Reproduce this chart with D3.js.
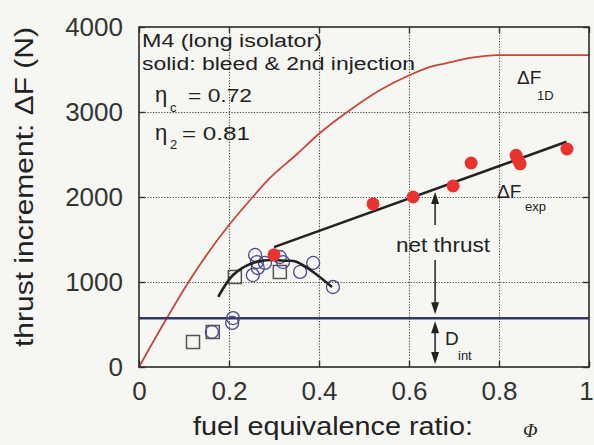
<!DOCTYPE html>
<html>
<head>
<meta charset="utf-8">
<script src="https://cdn.jsdelivr.net/npm/d3@7"></script>
<style>
  body { margin: 0; background: #f6f6f3; }
  svg { display: block; font-family: "Liberation Sans", Arial, sans-serif; }
</style>
</head>
<body>
<div id="graphicContainer"></div>
<script>
// ideal 1D thrust increment curve
var idealCurve = [[0,0],[0.062,576],[0.113,1024],[0.2,1670],[0.247,1965],[0.291,2224],[0.35,2500],
  [0.402,2753],[0.469,3024],[0.536,3259],[0.602,3435],[0.647,3530],[0.684,3576],[0.74,3640],[0.796,3670],[1,3670]]

// bleed & 2nd injection (solid)
var solidPhi = [0.30, 0.52, 0.609, 0.698, 0.738, 0.838, 0.842, 0.847, 0.951]
var solidF   = [1320, 1918, 2000, 2130, 2400, 2490, 2440, 2390, 2565]

// open circles
var circlePhi = [0.258, 0.262, 0.264, 0.253, 0.280, 0.313, 0.320, 0.358, 0.387, 0.431, 0.162, 0.207, 0.209]
var circleF   = [1318, 1235, 1165, 1082, 1224, 1294, 1235, 1118, 1224, 941, 412, 518, 576]

// open squares
var squarePhi = [0.213, 0.313, 0.164, 0.120]
var squareF   = [1059, 1118, 412, 294]

// fitted lines
var fitLine = [[0.30, 1410], [0.95, 2650]]
var arcLine = [[0.176,824],[0.209,1082],[0.253,1224],[0.291,1259],[0.33,1250],[0.351,1235],[0.387,1118],[0.429,941]]

var dInt = 575
var arrowPhi = 0.658

var xTicks = [0, 0.2, 0.4, 0.6, 0.8, 1]
var xLabels = ["0", "0.2", "0.4", "0.6", "0.8", "1"]
var yTicks = [0, 1000, 2000, 3000, 4000]

function makeChart() {

  var width = 594, height = 445
  var margin = {top: 27, right: 5, bottom: 78, left: 139}

  var svg = d3.select("#graphicContainer").append("svg")
      .attr("width", width).attr("height", height)

  svg.append("rect").attr("width", width).attr("height", height).attr("fill", "#f6f6f3")

  var x = d3.scaleLinear().domain([0, 1]).range([margin.left, width - margin.right])
  var y = d3.scaleLinear().domain([0, 4000]).range([height - margin.bottom, margin.top])

  // dotted grid
  var grid = svg.append("g").attr("stroke", "#444").attr("stroke-width", 1.1).attr("stroke-dasharray", "1.2,1.6")
  grid.selectAll(".vg").data(xTicks.slice(1, -1)).enter().append("line")
      .attr("x1", d => Math.round(x(d)) + 0.5).attr("x2", d => Math.round(x(d)) + 0.5)
      .attr("y1", y(0)).attr("y2", y(4000))
  grid.selectAll(".hg").data(yTicks.slice(1, -1)).enter().append("line")
      .attr("x1", x(0)).attr("x2", x(1))
      .attr("y1", d => Math.round(y(d)) + 0.5).attr("y2", d => Math.round(y(d)) + 0.5)

  // axes, ticks pointing inwards
  svg.append("g").attr("class", "axis").attr("transform", "translate(0," + y(0) + ")")
      .call(d3.axisBottom(x).tickValues(xTicks).tickFormat((d, i) => xLabels[i]).tickSizeInner(-6).tickSizeOuter(0).tickPadding(15))
  svg.append("g").attr("class", "axis").attr("transform", "translate(" + x(0) + ",0)")
      .call(d3.axisLeft(y).tickValues(yTicks).tickFormat(d3.format("d")).tickSizeInner(-6).tickSizeOuter(0).tickPadding(16))
  svg.append("g").attr("class", "axis").attr("transform", "translate(0," + y(4000) + ")")
      .call(d3.axisTop(x).tickValues(xTicks).tickFormat("").tickSizeInner(-6).tickSizeOuter(0))
  svg.append("g").attr("class", "axis").attr("transform", "translate(" + x(1) + ",0)")
      .call(d3.axisRight(y).tickValues(yTicks).tickFormat("").tickSizeInner(-6).tickSizeOuter(0))

  svg.selectAll(".axis .domain").remove()
  svg.selectAll(".axis .tick line").attr("stroke", "#333").attr("stroke-width", 1.4)
  svg.selectAll(".axis .tick text").attr("font-size", 26).attr("fill", "#333")
    .attr("font-family", "'Liberation Sans', Arial, sans-serif")
  // last x label sits at the very edge
  svg.selectAll(".axis .tick text").filter(d => d === 1).attr("dx", -3)

  var line = d3.line().x(d => x(d[0])).y(d => y(d[1]))

  // ideal curve
  svg.append("path").datum(idealCurve)
      .attr("d", d3.line().x(d => x(d[0])).y(d => y(d[1])).curve(d3.curveMonotoneX))
      .attr("fill", "none").attr("stroke", "#c8453b").attr("stroke-width", 1.8)

  // D_int line
  svg.append("line").attr("x1", x(0)).attr("x2", x(1)).attr("y1", y(dInt)).attr("y2", y(dInt))
      .attr("stroke", "#35356c").attr("stroke-width", 2.5)

  // squares
  svg.selectAll(".sq").data(squarePhi).enter().append("rect")
      .attr("x", d => x(d) - 6.5).attr("y", (d, i) => y(squareF[i]) - 6.5)
      .attr("width", 13).attr("height", 13)
      .attr("fill", "none").attr("stroke", "#555").attr("stroke-width", 1.5)

  // circles
  svg.selectAll(".oc").data(circlePhi).enter().append("circle")
      .attr("cx", d => x(d)).attr("cy", (d, i) => y(circleF[i])).attr("r", 6.5)
      .attr("fill", "none").attr("stroke", "#4a4a8e").attr("stroke-width", 1.3)

  // arc and fit line
  svg.append("path").datum(arcLine)
      .attr("d", d3.line().x(d => x(d[0])).y(d => y(d[1])).curve(d3.curveNatural))
      .attr("fill", "none").attr("stroke", "#222").attr("stroke-width", 2.6)
  svg.append("path").datum(fitLine).attr("d", line)
      .attr("fill", "none").attr("stroke", "#222").attr("stroke-width", 2.6)

  // solid dots
  svg.selectAll(".sd").data(solidPhi).enter().append("circle")
      .attr("cx", d => x(d)).attr("cy", (d, i) => y(solidF[i])).attr("r", 6.5)
      .attr("fill", "#e8332f")

  // arrows
  var fitAt = fitLine[0][1] + (fitLine[1][1] - fitLine[0][1]) * (arrowPhi - fitLine[0][0]) / (fitLine[1][0] - fitLine[0][0])
  var ax = x(arrowPhi)
  function arrowHead(tipY, dir) {
    svg.append("path")
      .attr("d", "M" + ax + "," + tipY + "L" + (ax - 4) + "," + (tipY + dir * 12) + "L" + (ax + 4) + "," + (tipY + dir * 12) + "Z")
      .attr("fill", "#222")
  }
  function shaft(y1, y2) {
    svg.append("line").attr("x1", ax).attr("x2", ax).attr("y1", y1).attr("y2", y2)
      .attr("stroke", "#222").attr("stroke-width", 1.5)
  }
  var tipTop = y(fitAt) + 3, tipNet = y(dInt) - 4
  shaft(tipTop + 8, 225); shaft(260, tipNet - 8)
  arrowHead(tipTop, 1); arrowHead(tipNet, -1)
  var tipD1 = y(dInt) + 3, tipD2 = y(0) - 3
  shaft(tipD1 + 8, tipD2 - 8)
  arrowHead(tipD1, 1); arrowHead(tipD2, -1)

  // texts
  function txt(t, px, py, size, len) {
    var e = svg.append("text").attr("x", px).attr("y", py).attr("font-size", size).attr("fill", "#222").text(t)
    if (len) e.attr("textLength", len).attr("lengthAdjust", "spacingAndGlyphs")
    return e
  }
  txt("M4 (long isolator)", 142, 47, 18, 180)
  txt("solid: bleed & 2nd injection", 142, 70, 18, 273)
  txt("η", 155, 102, 22)
  txt("c", 170, 112, 13)
  txt("= 0.72", 188, 102, 19, 64)
  txt("η", 155, 140, 22)
  txt("2", 170, 149, 13)
  txt("= 0.81", 182, 140, 19, 68)

  txt("ΔF", 517, 84, 19)
  txt("1D", 537, 100, 13)
  txt("ΔF", 497, 198, 19)
  txt("exp", 525, 211, 13)
  txt("net thrust", 396, 252, 20, 94)
  txt("D", 445, 345, 19)
  txt("int", 458, 360, 13)

  // frame
  svg.append("rect").attr("x", x(0)).attr("y", y(4000)).attr("width", x(1) - x(0)).attr("height", y(0) - y(4000))
      .attr("fill", "none").attr("stroke", "#2a2a2a").attr("stroke-width", 1.6)

  // axis titles
  txt("fuel equivalence ratio:", 193, 435, 25, 280)
  svg.append("text").attr("x", 523).attr("y", 437).attr("font-size", 19).attr("font-style", "italic")
      .attr("font-family", "'Liberation Serif', serif").attr("fill", "#222").text("Φ")
  svg.append("text").attr("transform", "translate(33,187) rotate(-90)").attr("text-anchor", "middle")
      .attr("font-size", 25).attr("fill", "#222").attr("textLength", 320).attr("lengthAdjust", "spacingAndGlyphs")
      .text("thrust increment: ΔF (N)")
}

makeChart()
</script>
</body>
</html>
